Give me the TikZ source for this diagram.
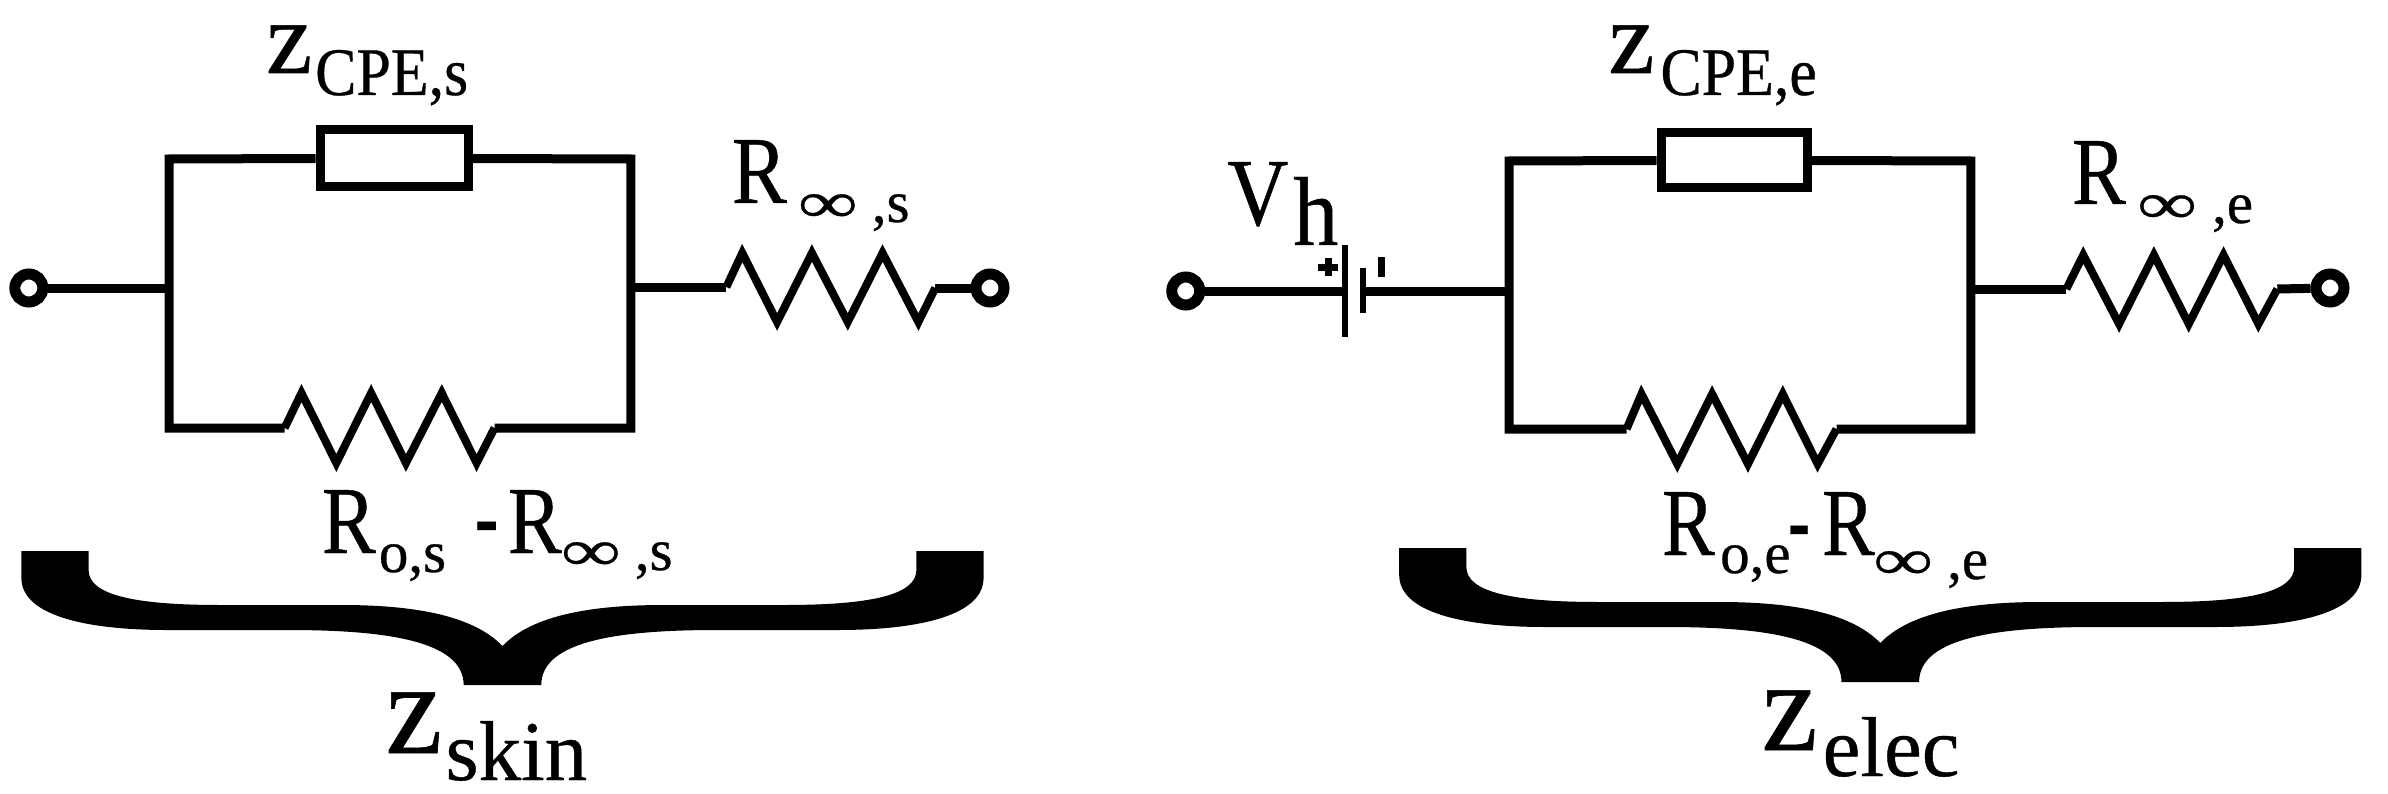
\documentclass[tikz,border=0pt]{standalone}
\usepackage{graphicx}
\usepackage{fontspec}
\setmainfont{Liberation Serif}[FakeBold=0.5]
\newcommand{\tx}[3]{\scalebox{#2}[1]{\fontsize{#1}{#1}\selectfont #3}}
\newcommand{\at}[3]{\rlap{\hspace{#1pt}\raisebox{-#2pt}{#3}}}
\newcommand{\inft}[2]{\tx{58}{#1}{\raisebox{#2pt}{∞}}}
\newcommand{\bracepath}{(-483.5,551) -- (-483.5,578) .. controls (-483.5,615) and (-420,630) .. (-337,630) -- (-216,630) .. controls (-120,630) and (-39,640) .. (-39,685) -- (39,685) .. controls (39,640) and (120,630) .. (216,630) -- (337,630) .. controls (420,630) and (483.5,615) .. (483.5,578) -- (483.5,551) -- (416,551) -- (416,570) .. controls (416,595) and (370,605) .. (283,605) -- (162,605) .. controls (90,605) and (30,615) .. (0,646) .. controls (-30,615) and (-90,605) .. (-162,605) -- (-283,605) .. controls (-370,605) and (-416,595) .. (-416,570) -- (-416,551) -- cycle}
\tikzset{
  wire/.style={line width=9pt,line cap=butt,line join=miter},
  res/.style={line width=8pt,line join=miter,miter limit=10},
  term/.style={circle,draw,line width=11pt,minimum size=28pt,inner sep=0pt,fill=white},
  cpe/.style={rectangle,draw,line width=9pt,inner sep=0pt,fill=white},
  lab/.style={anchor=base west,inner sep=0pt,outer sep=0pt},
  plate/.style={line width=6pt},
  polarity/.style={line width=7pt},
}
\begin{document}
\begin{tikzpicture}[x=.995pt,y=-1pt]
\useasboundingbox (0,0) rectangle (2400,794);
% ---------- left circuit
\node[term] (t1) at (29,288) {};
\node[term] (t2) at (995,288) {};
\node[cpe,minimum width=148pt,minimum height=57pt] (c1) at (396,158.5) {};
\coordinate (l1) at (170,288);
\coordinate (tl1) at (170,159);
\coordinate (tr1) at (634,159);
\coordinate (r1) at (634,287);
\coordinate (bl1) at (170,428);
\coordinate (br1) at (634,428);
\coordinate (rb1) at (286,428);
\coordinate (re1) at (497,428);
\coordinate (rs1) at (730,287);
\coordinate (rt1) at (940,288);
\draw[wire] (t1) -- (l1);
\draw[wire] (c1.west) -- (tl1) -- (bl1) -- (rb1);
\draw[wire] (c1.east) -- (tr1) -- (br1) -- (re1);
\draw[wire] (r1) -- (rs1);
\draw[wire] (rt1) -- (t2);
\draw[res] (rb1) -- ++(17,-35) -- ++(35,70) -- ++(35,-70) -- ++(35,70) -- ++(36,-70) -- ++(35,70) -- (re1);
\draw[res] (rs1) -- ++(16,-34) -- ++(35,69) -- ++(35,-69) -- ++(36,69) -- ++(35,-69) -- ++(36,69) -- (rt1);
% ---------- right circuit
\begin{scope}[xshift=5.7pt]
\node[term] (t3) at (1186,291) {};
\node[term] (t4) at (2336,288) {};
\node[cpe,minimum width=146pt,minimum height=55pt] (c2) at (1737,160.5) {};
\coordinate (b1) at (1346,291);
\coordinate (b2) at (1364,291);
\coordinate (l2) at (1511,291);
\coordinate (tl2) at (1511,161);
\coordinate (tr2) at (1975,161);
\coordinate (r2) at (1975,289);
\coordinate (bl2) at (1511,429);
\coordinate (br2) at (1975,429);
\coordinate (rb2) at (1629,429);
\coordinate (re2) at (1840,429);
\coordinate (rs2) at (2071,289);
\coordinate (rt2) at (2283,289);
\draw[wire] (t3) -- (b1);
\draw[wire] (b2) -- (l2);
\draw[plate] (1346,245) -- (1346,337);
\draw[plate] (1364,268) -- (1364,313);
\draw[polarity] (1319,267) -- (1339,267);
\draw[polarity] (1329,258) -- (1329,276);
\draw[polarity] (1382.5,257) -- (1382.5,277);
\draw[wire] (c2.west) -- (tl2) -- (bl2) -- (rb2);
\draw[wire] (c2.east) -- (tr2) -- (br2) -- (re2);
\draw[wire] (r2) -- (rs2);
\draw[wire] (rt2) -- (t4);
\draw[res] (rb2) -- ++(15,-35) -- ++(36,70) -- ++(35,-70) -- ++(36,70) -- ++(35,-70) -- ++(35,70) -- (re2);
\draw[res] (rs2) -- ++(17,-34) -- ++(36,69) -- ++(35,-69) -- ++(35,69) -- ++(35,-69) -- ++(35,69) -- (rt2);
\end{scope}
% ---------- braces
\begin{scope}[shift={(505,0)}]
\fill \bracepath;
\end{scope}
\begin{scope}[shift={(1884,-3)},xshift=5.7pt]
\fill \bracepath;
\end{scope}
% ---------- labels
\node[lab] (zs) at (267,73) {\at{0}{0}{\tx{104}{1}{z}}\at{49}{22}{\tx{68}{.91}{CPE,s}}};
\node[lab] (rs) at (735,203) {\at{0}{0}{\tx{96}{.86}{R}}\at{66}{19}{\inft{1.45}{0}}\at{140}{19}{\tx{59}{1}{,s}}};
\node[lab] (rds) at (323,553) {\at{0}{0}{\tx{96}{.84}{R}}\at{57}{19}{\tx{59}{1}{o,s}}\at{153}{-5}{\tx{94}{.75}{\bfseries -}}\at{186}{0}{\tx{96}{.84}{R}}\at{239}{17}{\inft{1.45}{0}}\at{313}{17}{\tx{59}{1}{,s}}};
\node[lab] (zk) at (387,753) {\at{0}{0}{\tx{132}{.97}{z}}\at{60}{27}{\tx{85}{1}{skin}}};
\node[lab] (ze) at (1616,73) {\at{0}{0}{\tx{104}{1}{z}}\at{52}{22}{\tx{68}{.91}{CPE,e}}};
\node[lab] (re) at (2082,204) {\at{0}{0}{\tx{96}{.84}{R}}\at{65}{19}{\inft{1.45}{0}}\at{140}{19}{\tx{59}{1}{,e}}};
\node[lab] (rde) at (1670,555) {\at{0}{0}{\tx{96}{.82}{R}}\at{58}{18}{\tx{59}{1}{o,e}}\at{126}{-3}{\tx{94}{.7}{\bfseries -}}\at{160}{0}{\tx{96}{.82}{R}}\at{211}{24}{\inft{1.45}{0}}\at{285}{24}{\tx{59}{1}{,e}}};
\node[lab] (ze2) at (1770,750) {\at{0}{0}{\tx{130}{.97}{z}}\at{61}{26}{\tx{85}{1}{elec}}};
\node[lab] (vh) at (1233,225) {\at{0}{0}{\tx{96}{.88}{V}}\at{66}{20}{\tx{98}{.92}{h}}};
\end{tikzpicture}
\end{document}
